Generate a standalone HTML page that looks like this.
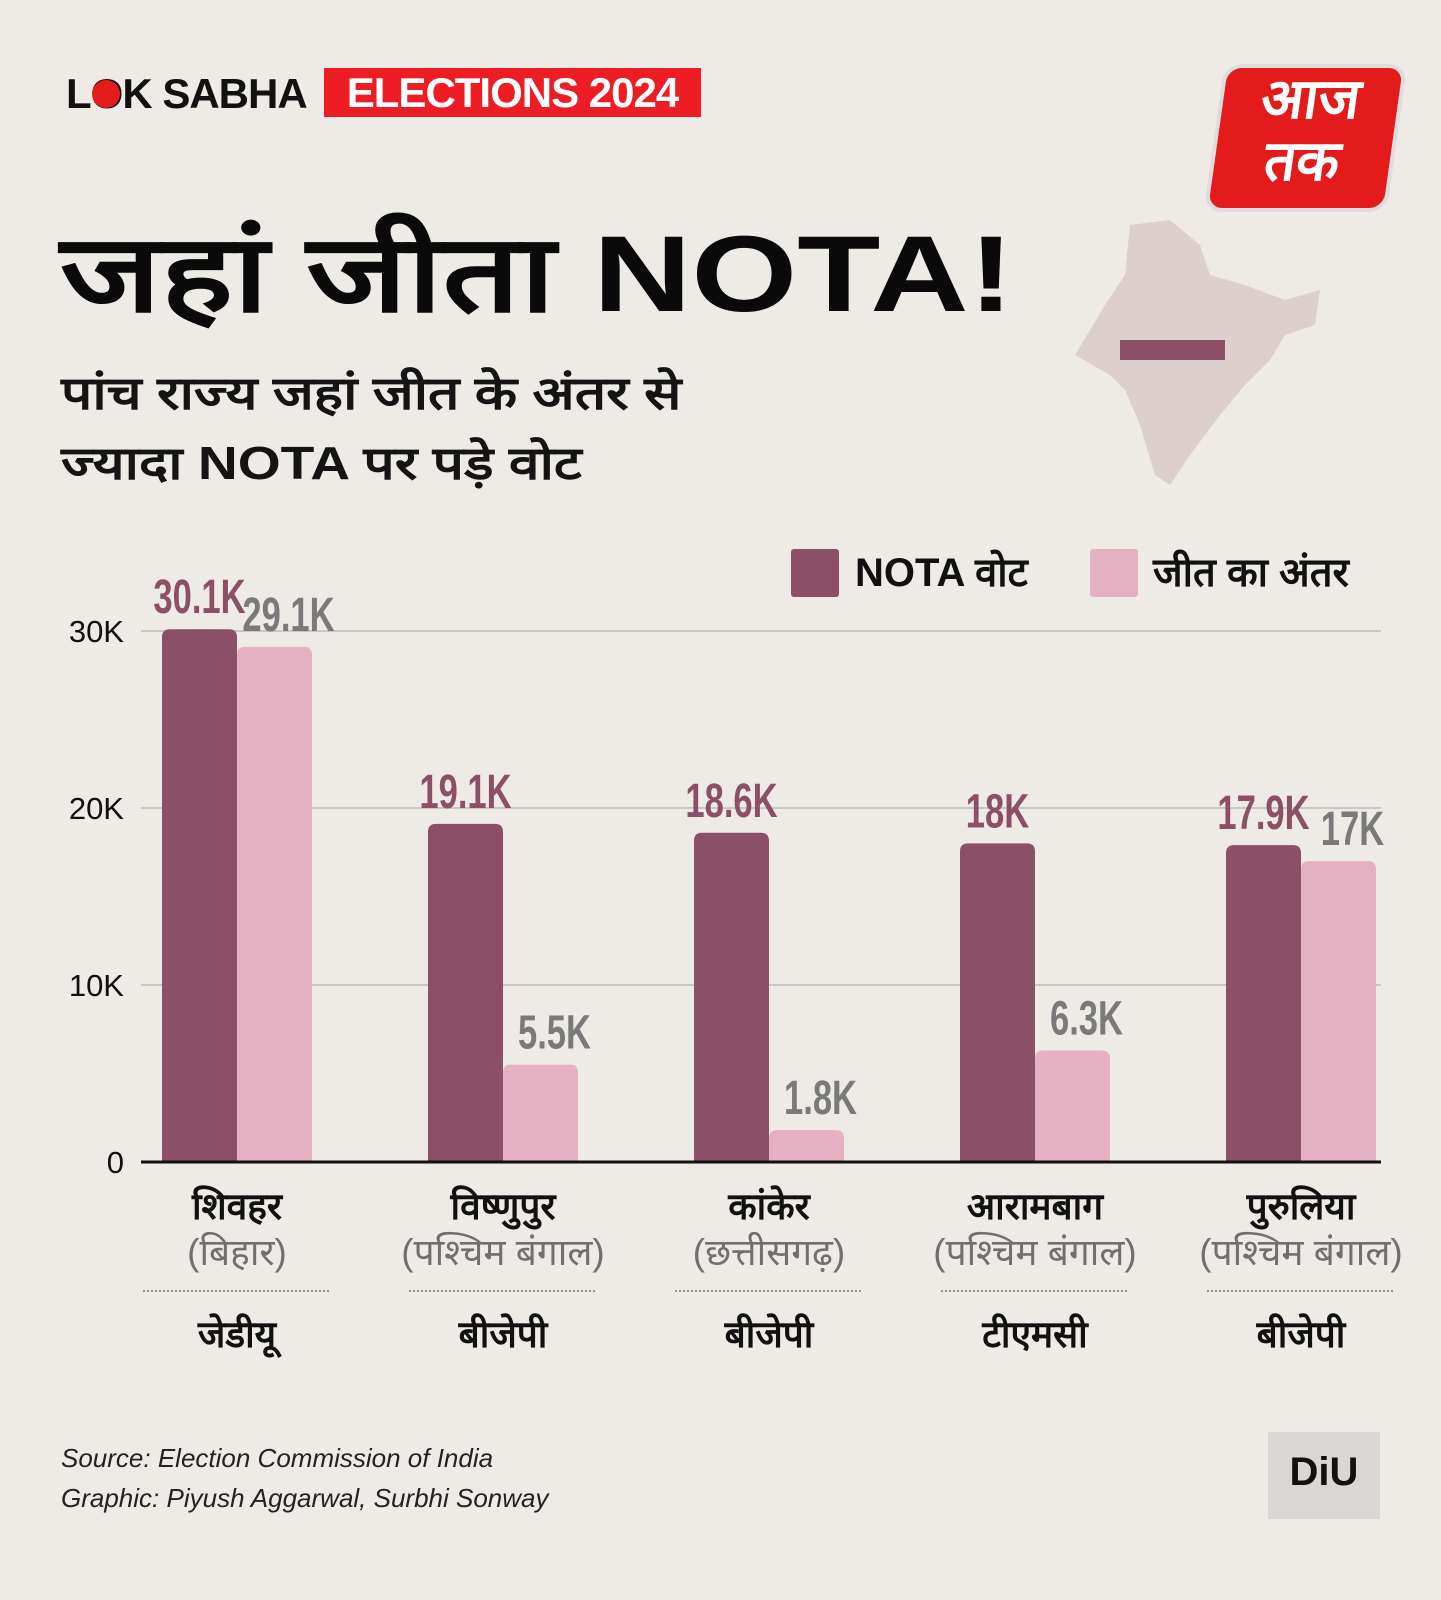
<!DOCTYPE html>
<html><head><meta charset="utf-8">
<style>
body{margin:0;width:1441px;height:1600px;overflow:hidden;background:#eeebe7;font-family:"Liberation Sans","Noto Sans CJK SC",sans-serif;}
#root{position:relative;width:1441px;height:1600px;}
.abs{position:absolute;white-space:nowrap;}
.hi{font-family:"Liberation Sans","Noto Sans CJK SC","WenQuanYi Zen Hei",sans-serif;}
</style></head>
<body><div id="root">
<div class="abs" style="left:66px;top:70px;font-size:42px;font-weight:bold;color:#111;letter-spacing:-1px;">LOK SABHA</div>
<div class="abs" style="left:92px;top:80px;width:28px;height:28px;border-radius:50%;background:#e21c1c;"></div>
<div class="abs" style="left:324px;top:68px;width:377px;height:49px;background:#ee1c24;color:#fff;font-size:42px;font-weight:bold;line-height:49px;text-align:center;letter-spacing:-1px;">ELECTIONS 2024</div>
<div class="abs" style="left:1214px;top:64px;width:175px;height:140px;border-radius:18px;background:#e41b1b;transform:skewX(-8deg);border:4px solid #ddd;color:#fff;font-size:56px;font-weight:bold;text-align:center;line-height:62px;">आज<br>तक</div>
<svg class="abs" style="left:1070px;top:215px" width="260" height="280"><polygon points="60,10 100,5 130,30 140,60 175,70 215,85 250,75 245,110 215,120 200,145 175,170 150,200 120,240 100,270 85,260 70,210 55,175 40,160 5,140 20,115 35,90 55,60" fill="#d8c8c8" opacity="0.8"/><rect x="50" y="125" width="105" height="20" fill="#8b5067"/></svg>
<div class="abs hi" style="left:60px;top:196px;font-size:108px;font-weight:bold;color:#0a0a0a;transform-origin:0 0;transform:scaleX(1.26);">जहां जीता NOTA!</div>
<div class="abs hi" style="left:61px;top:358px;font-size:46px;font-weight:bold;color:#141414;line-height:70px;transform-origin:0 0;transform:scaleX(1.2);">पांच राज्य जहां जीत के अंतर से<br>ज्यादा NOTA पर पड़े वोट</div>
<div class="abs" style="left:791px;top:549px;width:48px;height:48px;background:#8b5067;border-radius:3px;"></div>
<div class="abs hi" style="left:855px;top:549px;font-size:40px;font-weight:bold;line-height:48px;color:#111;">NOTA वोट</div>
<div class="abs" style="left:1090px;top:549px;width:48px;height:48px;background:#e3b1c2;border-radius:3px;"></div>
<div class="abs hi" style="left:1153px;top:549px;font-size:40px;font-weight:bold;line-height:48px;color:#111;">जीत का अंतर</div>
<svg id="chart" class="abs" style="left:0;top:0" width="1441" height="1600"></svg>
<div class="abs" style="left:61px;top:1438px;font-size:26px;font-style:italic;color:#222;line-height:40px;">Source: Election Commission of India<br>Graphic: Piyush Aggarwal, Surbhi Sonway</div>
<div class="abs" style="left:1268px;top:1432px;width:112px;height:87px;background:#d9d6d3;text-align:center;font-size:40px;font-weight:bold;line-height:80px;color:#111;">DiU</div>
</div>
<script>
const categories=["शिवहर","विष्णुपुर","कांकेर","आरामबाग","पुरुलिया"];
const states=["(बिहार)","(पश्चिम बंगाल)","(छत्तीसगढ़)","(पश्चिम बंगाल)","(पश्चिम बंगाल)"];
const parties=["जेडीयू","बीजेपी","बीजेपी","टीएमसी","बीजेपी"];
const notaVotes=[30.1,19.1,18.6,18,17.9];
const winMargin=[29.1,5.5,1.8,6.3,17];
const notaLabels=["30.1K","19.1K","18.6K","18K","17.9K"];
const marginLabels=["29.1K","5.5K","1.8K","6.3K","17K"];
const yTicks=[0,10,20,30];
const yTickLabels=["0","10K","20K","30K"];
const NS="http://www.w3.org/2000/svg";
const svg=document.getElementById('chart');
const y0=1162,pxPer=17.7,x0=162,step=266,bw=75;
const y=v=>y0-v*pxPer;
const gx=i=>x0+i*step;
function mk(tag,attrs,txt){const e=document.createElementNS(NS,tag);for(const k in attrs)e.setAttribute(k,attrs[k]);if(txt!==undefined)e.textContent=txt;svg.appendChild(e);return e;}
yTicks.forEach((t,i)=>{
  if(t>0){const g=mk('line',{x1:141,x2:1381,y1:y(t),y2:y(t),stroke:'#bbb','stroke-width':1.5});
  
  }
  const l=mk('text',{x:124,y:y(t)+11,'text-anchor':'end','font-size':31,fill:'#111','font-family':'Liberation Sans, sans-serif'},yTickLabels[i]);
  
  
});
function bar(x,v,color){
  const h=y0-y(v),r=Math.min(8,h/2);
  return mk('path',{d:`M${x},${y0} V${y(v)+r} Q${x},${y(v)} ${x+r},${y(v)} H${x+bw-r} Q${x+bw},${y(v)} ${x+bw},${y(v)+r} V${y0} Z`,fill:color});
}
function lbl(cx,yy,txt,color){
  return mk('text',{x:cx,y:yy,'text-anchor':'middle','font-size':48,'font-weight':'bold',fill:color,'font-family':'Liberation Sans Narrow, Liberation Sans, sans-serif',transform:`translate(${cx},0) scale(0.72,1) translate(${-cx},0)`},txt);
}
categories.forEach((c,i)=>{
  const b1=bar(gx(i),notaVotes[i],'#8b5067');
  
  
  const b2=bar(gx(i)+bw,winMargin[i],'#e3b1c2');
  
  
  const t1=lbl(gx(i)+bw/2,y(notaVotes[i])-16,notaLabels[i],'#8b5067');
  
  
  const t2=lbl(gx(i)+bw*1.5+14,y(winMargin[i])-16,marginLabels[i],'#7a7a7a');
  
  
  const cx=gx(i)+bw;
  const n=mk('text',{x:cx,y:1219,'text-anchor':'middle','font-size':37,'font-weight':'bold',fill:'#111','font-family':'Liberation Sans, Noto Sans CJK SC, sans-serif'},c);
  
  
  const s=mk('text',{x:cx,y:1265,'text-anchor':'middle','font-size':37,fill:'#707070','font-family':'Liberation Sans, Noto Sans CJK SC, sans-serif'},states[i]);
  
  
  const d=mk('line',{x1:cx-94,x2:cx+94,y1:1291,y2:1291,stroke:'#777','stroke-width':1.5,'stroke-dasharray':'2 2'});
  
  
  const p=mk('text',{x:cx,y:1347,'text-anchor':'middle','font-size':37,'font-weight':'bold',fill:'#111','font-family':'Liberation Sans, Noto Sans CJK SC, sans-serif'},parties[i]);
  
  
});
const ax=mk('line',{x1:141,x2:1381,y1:y0,y2:y0,stroke:'#111','stroke-width':3});


</script>
</body></html>
